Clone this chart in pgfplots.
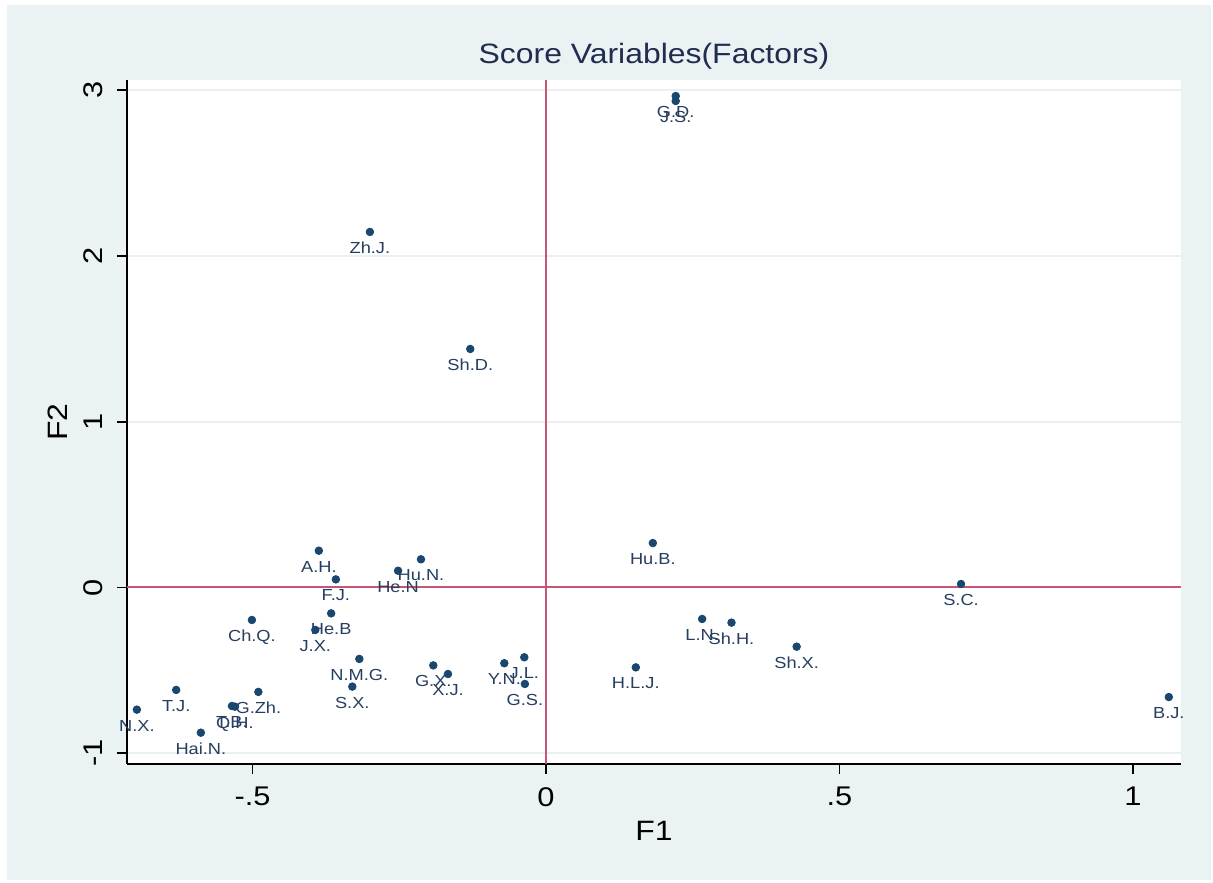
\documentclass[border=0pt]{standalone}
\usepackage{pgfplots}
\pgfplotsset{compat=1.18}
\usepackage{fontspec}
\setmainfont{Liberation Sans}[FakeStretch=1.14]
\definecolor{bgblue}{RGB}{234,242,243}
\definecolor{gridc}{RGB}{232,240,242}
\definecolor{navy}{RGB}{26,71,111}
\definecolor{labc}{RGB}{38,62,95}
\definecolor{redl}{RGB}{200,85,115}
\definecolor{titc}{RGB}{32,45,78}
\begin{document}
\begin{tikzpicture}
\path[use as bounding box] (0,0) rectangle (606.5pt,441pt);
\fill[bgblue] (3.5pt,1pt) rectangle (605.5pt,438.5pt);
\begin{axis}[
  at={(63.5pt,59pt)}, anchor=south west,
  scale only axis, width=527pt, height=342pt,
  xmin=-0.7138, xmax=1.0818, ymin=-1.0649, ymax=3.0618,
  axis background/.style={fill=white},
  axis x line*=bottom, axis y line*=left,
  axis line style={line width=1pt, black, -},
  xtick={-0.5,0,0.5,1}, xticklabels={-.5,0,.5,1},
  ytick={-1,0,1,2,3}, yticklabels={-1,0,1,2,3},
  tick align=outside, major tick length=5pt,
  tick style={line width=0.8pt, black},
  ymajorgrids, major grid style={line width=1pt, gridc},
  xticklabel shift=6.5pt, yticklabel shift=7pt,
  xticklabel style={anchor=north, inner sep=0pt, font=\fontsize{13.5}{15}\selectfont},
  yticklabel style={rotate=90, anchor=base, inner sep=0pt, font=\fontsize{13.5}{15}\selectfont},
  title={Score Variables(Factors)},
  title style={at={(axis description cs:0.5,1)}, anchor=base, yshift=2pt, inner sep=0pt, font=\fontsize{14}{16}\selectfont, text=titc},
  xlabel={F1},
  xlabel style={at={(axis description cs:0.5,0)}, anchor=base, yshift=-38pt, inner sep=0pt, font=\fontsize{14}{16}\selectfont},
  ylabel={F2},
  ylabel style={at={(axis description cs:-0.0569,0.5)}, anchor=base, inner sep=0pt, font=\fontsize{14}{16}\selectfont},
  clip=false,
]
\addplot[draw=redl, line width=1pt] coordinates {(0,-1.0649) (0,3.0618)};
\addplot[draw=redl, line width=1pt] coordinates {(-0.7138,0) (1.0818,0)};
\addplot[only marks, mark=*, mark size=1.9pt, color=navy,
  nodes near coords, point meta=explicit symbolic,
  every node near coord/.append style={anchor=north, inner sep=0pt, yshift=-5pt, font=\fontsize{8}{9}\selectfont, text=labc}]
table[meta=label] {
x y label
0.221 2.965 G.D.
0.221 2.935 J.S.
-0.300 2.145 Zh.J.
-0.129 1.439 Sh.D.
0.182 0.268 Hu.B.
0.707 0.021 S.C.
1.061 -0.661 B.J.
-0.387 0.222 A.H.
-0.358 0.049 F.J.
-0.366 -0.156 He.B
-0.393 -0.256 J.X.
-0.252 0.101 He.N
-0.213 0.170 Hu.N.
-0.318 -0.431 N.M.G.
-0.330 -0.598 S.X.
-0.192 -0.470 G.X.
-0.167 -0.522 X.J.
-0.071 -0.457 Y.N.
-0.037 -0.421 J.L.
-0.036 -0.582 G.S.
-0.501 -0.196 Ch.Q.
-0.630 -0.618 T.J.
-0.697 -0.737 N.X.
-0.490 -0.630 G.Zh.
-0.535 -0.715 T.B.
-0.530 -0.719 Q.H.
-0.588 -0.876 Hai.N.
0.153 -0.482 H.L.J.
0.266 -0.190 L.N.
0.316 -0.212 Sh.H.
0.427 -0.357 Sh.X.
};
\end{axis}
\end{tikzpicture}
\end{document}
